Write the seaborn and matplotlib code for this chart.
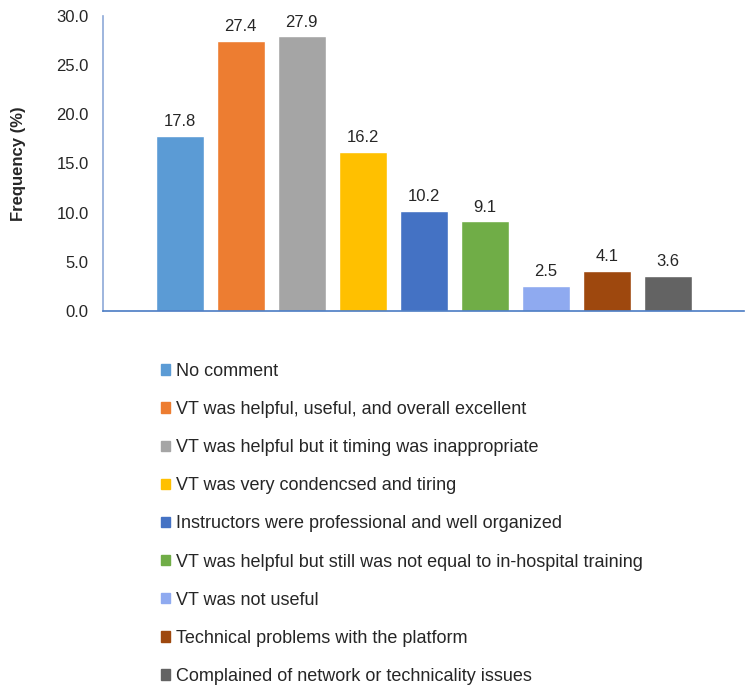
import matplotlib
matplotlib.use("Agg")
import matplotlib.pyplot as plt
import matplotlib.patches as mpatches
from matplotlib.ticker import FormatStrFormatter
import pandas as pd
import seaborn as sns

# data
comments = [
    "No comment",
    "VT was helpful, useful, and overall excellent",
    "VT was helpful but it timing was inappropriate",
    "VT was very condencsed and tiring",
    "Instructors were professional and well organized",
    "VT was helpful but still was not equal to in-hospital training",
    "VT was not useful",
    "Technical problems with the platform",
    "Complained of network or technicality issues",
]
frequency = [17.8, 27.4, 27.9, 16.2, 10.2, 9.1, 2.5, 4.1, 3.6]
colors = ["#5B9BD5", "#ED7D31", "#A5A5A5", "#FFC000", "#4472C4",
          "#70AD47", "#8FAAF0", "#9E480E", "#636363"]

df = pd.DataFrame({"comment": comments, "freq": frequency})

sns.set_style("white")
plt.rcParams["font.family"] = ["Liberation Sans", "DejaVu Sans"]

fig = plt.figure(figsize=(7.5, 6.88), dpi=100)
ax = fig.add_axes([0.137, 0.548, 0.855, 0.429])

sns.barplot(data=df, x="comment", y="freq", hue="comment", palette=colors,
            width=0.79, legend=False, ax=ax, saturation=1)

for i, v in enumerate(frequency):
    ax.annotate(f"{v:.1f}", (i, v), xytext=(0, 5), textcoords="offset points",
                ha="center", va="bottom", fontsize=12)

ax.set_ylim(0, 30)
ax.set_xlim(-1.26, 9.25)
ax.set_yticks([0, 5, 10, 15, 20, 25, 30])
ax.yaxis.set_major_formatter(FormatStrFormatter("%.1f"))
ax.tick_params(axis="y", labelsize=12, length=0, pad=10)
ax.set_xticks([])
ax.set_xlabel("")
ax.set_ylabel("Frequency (%)", fontsize=12, fontweight="bold", labelpad=22)

for s in ["top", "right"]:
    ax.spines[s].set_visible(False)
ax.spines["left"].set_color("#8EA9D8")
ax.spines["left"].set_linewidth(1.2)
ax.spines["bottom"].set_color("#4A7CC4")
ax.spines["bottom"].set_linewidth(1.2)

handles = [mpatches.Patch(color=c) for c in colors]
fig.legend(handles, comments, loc="upper left", bbox_to_anchor=(0.205, 0.483),
           frameon=False, fontsize=13, handlelength=0.5, handleheight=0.5,
           handletextpad=0.35, labelspacing=1.17, borderaxespad=0)

fig.savefig("out.png", dpi=100)
